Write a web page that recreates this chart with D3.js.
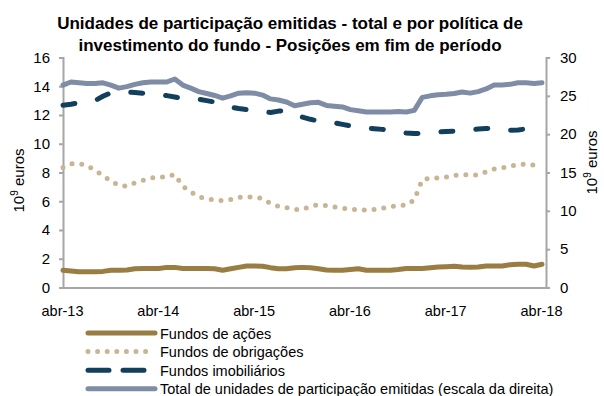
<!DOCTYPE html>
<html>
<head>
<meta charset="utf-8">
<script src="https://cdn.jsdelivr.net/npm/d3@7"></script>
<style>
  html, body { margin: 0; padding: 0; background: #fff; }
  svg { display: block; }
  text { font-family: "Liberation Sans", Arial, sans-serif; fill: #000; }
</style>
</head>
<body>
<svg id="chart" width="604" height="396"></svg>
<script>
// Monthly positions, abr-13 .. abr-18 (61 months)
const months = d3.range(61);
const xTickMonths = [0, 12, 24, 36, 48, 60];
const xTickLabels = ["abr-13", "abr-14", "abr-15", "abr-16", "abr-17", "abr-18"];
const leftTicks = [0, 2, 4, 6, 8, 10, 12, 14, 16];
const rightTicks = [0, 5, 10, 15, 20, 25, 30];

// Fundos de ações (10^9 euros, left scale)
const acoes = [1.2, 1.15, 1.1, 1.1, 1.1, 1.12, 1.2, 1.2, 1.22, 1.3, 1.32, 1.32, 1.32, 1.4, 1.4, 1.32,
  1.32, 1.32, 1.32, 1.3, 1.2, 1.3, 1.4, 1.5, 1.5, 1.48, 1.38, 1.3, 1.3, 1.38, 1.4, 1.38, 1.3, 1.22,
  1.2, 1.2, 1.25, 1.3, 1.2, 1.2, 1.2, 1.2, 1.25, 1.32, 1.32, 1.32, 1.38, 1.42, 1.45, 1.48, 1.42,
  1.41, 1.43, 1.5, 1.5, 1.5, 1.58, 1.62, 1.62, 1.5, 1.62];

// Fundos de obrigações (left scale)
const obrigacoes = [8.35, 8.6, 8.62, 8.5, 8.15, 7.8, 7.4, 7.1, 7.05, 7.28, 7.45, 7.62, 7.69, 7.7, 7.86,
  7.05, 6.65, 6.3, 6.19, 6.07, 6.05, 6.12, 6.27, 6.3, 6.3, 6.18, 5.85, 5.65, 5.55, 5.42, 5.44, 5.65,
  5.75, 5.7, 5.6, 5.52, 5.44, 5.4, 5.4, 5.43, 5.52, 5.62, 5.71, 5.74, 6.1, 7.5, 7.6, 7.62, 7.68, 7.8,
  7.87, 7.8, 7.85, 8.05, 8.25, 8.32, 8.45, 8.55, 8.6, 8.5, 8.5];

// Fundos imobiliários (left scale)
const imobiliarios = [12.68, 12.75, 12.85, 12.92, 13.0, 13.3, 13.55, 13.6, 13.6, 13.56, 13.52, 13.5,
  13.42, 13.35, 13.25, 13.15, 13.12, 13.1, 13.0, 12.9, 12.7, 12.55, 12.45, 12.38, 12.3, 12.2, 12.18,
  12.27, 12.3, 12.0, 11.85, 11.7, 11.58, 11.52, 11.46, 11.35, 11.25, 11.18, 11.1, 11.05, 11.0, 10.9,
  10.82, 10.75, 10.72, 10.71, 10.75, 10.82, 10.85, 10.87, 10.9, 10.97, 11.03, 11.06, 11.08, 11.0,
  10.94, 10.96, 11.03, 11.1, 11.15];

// Total de unidades de participação emitidas (right scale)
const total = [26.4, 26.8, 26.7, 26.6, 26.6, 26.7, 26.4, 26.0, 26.2, 26.5, 26.7, 26.8, 26.8, 26.8, 27.2,
  26.4, 26.0, 25.55, 25.3, 25.05, 24.7, 25.0, 25.35, 25.4, 25.35, 25.1, 24.6, 24.45, 24.2, 23.7, 23.9,
  24.1, 24.15, 23.75, 23.65, 23.55, 23.2, 23.05, 22.9, 22.9, 22.9, 22.9, 22.95, 22.9, 23.1, 24.8, 25.0,
  25.15, 25.2, 25.3, 25.5, 25.35, 25.55, 25.9, 26.4, 26.4, 26.5, 26.7, 26.7, 26.6, 26.7];

const seriesNames = ["Fundos de ações", "Fundos de obrigações", "Fundos imobiliários",
  "Total de unidades de participação emitidas (escala da direita)"];
const seriesColors = ["#9a7d42", "#c8b594", "#123f5c", "#7f8ca5"];

const titleLines = ["Unidades de participação emitidas - total e por política de",
  "investimento do fundo - Posições em fim de período"];

const svg = d3.select("#chart");
const axisColor = "#a6a6a6";

const x = d3.scaleLinear().domain([0, 60.5]).range([63, 546]);
const yL = d3.scaleLinear().domain([0, 16]).range([287.5, 57.5]);
const yR = d3.scaleLinear().domain([0, 30]).range([287.5, 57.5]);

// Title
svg.append("g").selectAll("text").data(titleLines).join("text")
  .attr("x", 290).attr("y", (d, i) => 29 + i * 22)
  .attr("text-anchor", "middle")
  .style("font-size", "17px").style("font-weight", "bold")
  .text(d => d);

// Left axis
const gL = svg.append("g").attr("transform", `translate(${x(0)},0)`)
  .call(d3.axisLeft(yL).tickValues(leftTicks).tickSize(4).tickPadding(9).tickSizeOuter(4));
// Right axis
const gR = svg.append("g").attr("transform", `translate(${x(60.5)},0)`)
  .call(d3.axisRight(yR).tickValues(rightTicks).tickSize(4).tickPadding(10).tickSizeOuter(4));
[gL, gR].forEach(g => {
  g.selectAll("path, line").attr("stroke", axisColor).attr("stroke-width", 2);
  g.selectAll("text").style("font-size", "15px").attr("fill", "#000");
});

// Bottom axis
const gB = svg.append("g").attr("transform", `translate(0,${yL(0)})`)
  .call(d3.axisBottom(x).tickValues(xTickMonths).tickSize(0).tickPadding(18)
    .tickFormat((d, i) => xTickLabels[i]));
gB.select(".domain").attr("stroke", axisColor).attr("stroke-width", 2);
gB.selectAll("text").style("font-size", "14.5px").attr("fill", "#000").attr("dx", -1);

// Axis titles
svg.append("text")
  .attr("transform", `translate(24,${yL(8) + 8}) rotate(-90)`)
  .attr("text-anchor", "middle").style("font-size", "15px")
  .html('10<tspan dy="-6" style="font-size:10px">9</tspan><tspan dy="6"> euros</tspan>');
svg.append("text")
  .attr("transform", `translate(597,${yR(15) - 10}) rotate(-90)`)
  .attr("text-anchor", "middle").style("font-size", "15px")
  .html('10<tspan dy="-6" style="font-size:10px">9</tspan><tspan dy="6"> euros</tspan>');

// Lines
const lineL = d3.line().x((d, i) => x(i)).y(d => yL(d));
const lineR = d3.line().x((d, i) => x(i)).y(d => yR(d));

const plot = svg.append("g").attr("fill", "none").attr("stroke-linecap", "round").attr("stroke-linejoin", "round");
plot.append("path").datum(acoes).attr("d", lineL)
  .attr("stroke", seriesColors[0]).attr("stroke-width", 5);
plot.append("path").datum(obrigacoes).attr("d", lineL)
  .attr("stroke", seriesColors[1]).attr("stroke-width", 5).attr("stroke-dasharray", "0 9.8");
plot.append("path").datum(imobiliarios).attr("d", lineL)
  .attr("stroke", seriesColors[2]).attr("stroke-width", 5).attr("stroke-dasharray", "12 23");
plot.append("path").datum(total).attr("d", lineR)
  .attr("stroke", seriesColors[3]).attr("stroke-width", 5);

// Legend
const legendDash = ["none", "0 9.6", "21 14", "none"];
const leg = svg.append("g").selectAll("g").data(seriesNames).join("g")
  .attr("transform", (d, i) => `translate(0,${333 + i * 18.6})`);
leg.append("line")
  .attr("x1", 88).attr("x2", 155).attr("y1", 0).attr("y2", 0)
  .attr("stroke", (d, i) => seriesColors[i]).attr("stroke-width", 5)
  .attr("stroke-linecap", "round")
  .attr("stroke-dasharray", (d, i) => legendDash[i]);
leg.append("text").attr("x", 160).attr("y", 5.5)
  .style("font-size", "14.5px").text(d => d);
</script>
</body>
</html>
